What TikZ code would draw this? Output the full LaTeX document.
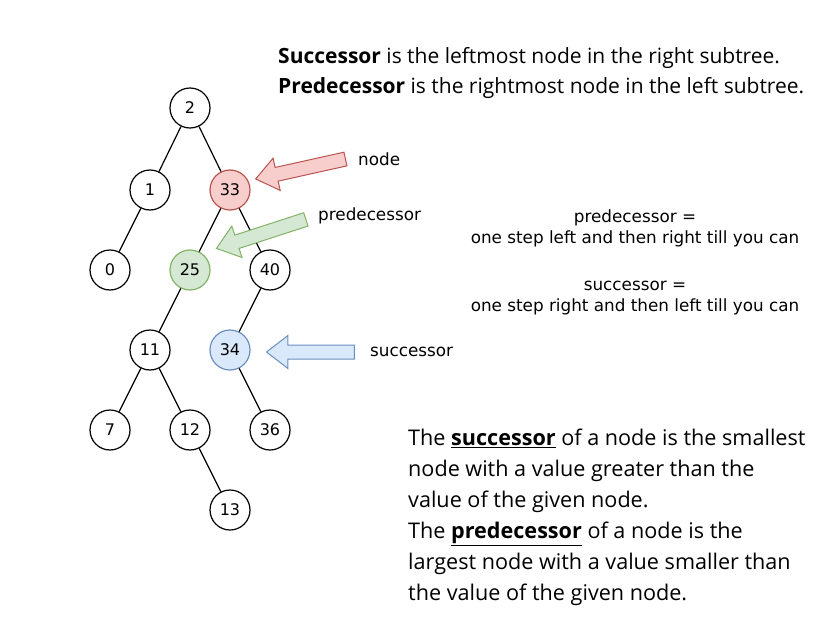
\documentclass[tikz,border=0pt]{standalone}
\usepackage{fontspec}
\setmainfont{Open Sans}
\newfontfamily\handfont{DejaVu Sans}
\usetikzlibrary{positioning, shapes.arrows}

\definecolor{redfill}{HTML}{F8CECC}
\definecolor{redline}{HTML}{B85450}
\definecolor{greenfill}{HTML}{D5E8D4}
\definecolor{greenline}{HTML}{82B366}
\definecolor{bluefill}{HTML}{DAE8FC}
\definecolor{blueline}{HTML}{6C8EBF}

\begin{document}
\begin{tikzpicture}[x=1pt, y=-1pt,
  treenode/.style={draw, circle, line width=1.2pt, minimum size=40pt, inner sep=0pt, font=\handfont\fontsize{16}{18}\selectfont},
  edge/.style={line width=1.2pt},
  blockarrow/.style={single arrow, draw, line width=1pt, inner xsep=0pt, inner ysep=6.5pt, single arrow head extend=9.5pt, single arrow tip angle=75},
  label/.style={anchor=west, inner sep=0pt, font=\handfont\fontsize{16.8}{21}\selectfont},
  rule/.style={anchor=west, inner sep=0pt, align=left, font=\fontsize{21.6}{31}\selectfont}]
\useasboundingbox (0,0) rectangle (836,629);

% the tree
\node[treenode] (n2) at (190,108) {2};
\node[treenode] (n1) at (150,190) {1};
\node[treenode, fill=redfill, draw=redline] (n33) at (230,190) {33};
\node[treenode] (n0) at (110,270) {0};
\node[treenode, fill=greenfill, draw=greenline] (n25) at (190,270) {25};
\node[treenode] (n40) at (270,270) {40};
\node[treenode] (n11) at (150,350) {11};
\node[treenode, fill=bluefill, draw=blueline] (n34) at (230,350) {34};
\node[treenode] (n7) at (110,430) {7};
\node[treenode] (n12) at (190,430) {12};
\node[treenode] (n36) at (270,430) {36};
\node[treenode] (n13) at (230,510) {13};

\draw[edge] (n2) -- (n1);
\draw[edge] (n2) -- (n33);
\draw[edge] (n1) -- (n0);
\draw[edge] (n33) -- (n25);
\draw[edge] (n33) -- (n40);
\draw[edge] (n25) -- (n11);
\draw[edge] (n40) -- (n34);
\draw[edge] (n11) -- (n7);
\draw[edge] (n11) -- (n12);
\draw[edge] (n34) -- (n36);
\draw[edge] (n12) -- (n13);

% pointers
\node[blockarrow, fill=redfill, draw=redline, minimum height=92pt, rotate=192.5] (nodearrow) at (305,168) {};
\node[blockarrow, fill=greenfill, draw=greenline, minimum height=94pt, rotate=198] (predarrow) at (265.5,232.5) {};
\node[blockarrow, fill=bluefill, draw=blueline, minimum height=88pt, rotate=180] (succarrow) at (315,352) {};
\node[label] (nodelabel) at (358,159) {node};
\node[label] (predlabel) at (318,216) {predecessor};
\node[label] (succlabel) at (370,352) {successor};

% rules
\node[rule, font=\fontsize{21}{30}\selectfont] (defs) at (278,73) {\textbf{Successor} is the leftmost node in the right subtree.\\
\textbf{Predecessor} is the rightmost node in the left subtree.};
\node[label, anchor=center, align=center] (predrule) at (635,228) {predecessor =\\one step left and then right till you can};
\node[label, anchor=center, align=center] (succrule) at (635,298) {successor =\\one step right and then left till you can};
\node[rule] (bottom) at (408,517) {The \textbf{\underline{successor}} of a node is the smallest\\
node with a value greater than the\\
value of the given node.\\
The \textbf{\underline{predecessor}} of a node is the\\
largest node with a value smaller than\\
the value of the given node.};
\end{tikzpicture}
\end{document}
